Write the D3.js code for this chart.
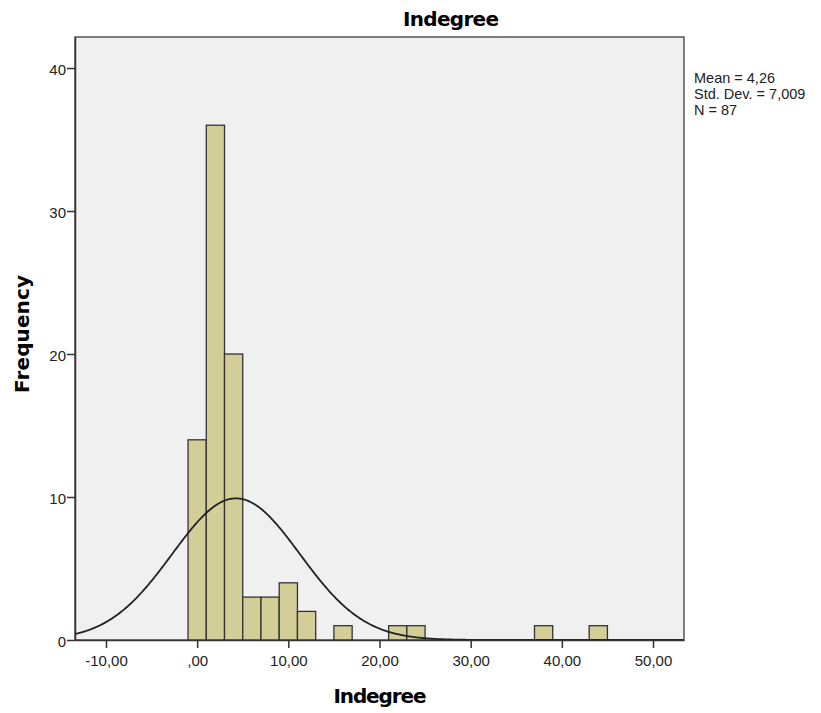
<!DOCTYPE html>
<html>
<head>
<meta charset="utf-8">
<script src="https://cdn.jsdelivr.net/npm/d3@7"></script>
<style>
  body { margin: 0; background: #fff; }
  text { font-family: "Liberation Sans", Arial, sans-serif; }
</style>
</head>
<body>
<svg width="821" height="713"></svg>
<script>
// histogram bins (start of each 2-wide bin) and counts
const binStarts = [-1, 1, 3, 5, 7, 9, 11, 15, 21, 23, 37, 43];
const binCounts = [14, 36, 20, 3, 3, 4, 2, 1, 1, 1, 1, 1];
const binWidth = 2;
const xTicks = [-10, 0, 10, 20, 30, 40, 50];
const yTicks = [0, 10, 20, 30, 40];
const stats = ["Mean = 4,26", "Std. Dev. = 7,009", "N = 87"];
const mean = 4.26, sd = 7.009, n = 87;

const svg = d3.select("svg");
const mLeft = 75, mRight = 684, mTop = 37, mBottom = 640;

const x = d3.scaleLinear().domain([-13.4, 53.4]).range([mLeft, mRight]);
const y = d3.scaleLinear().domain([0, 42.17]).range([mBottom, mTop]);

// plot background
svg.append("rect")
  .attr("x", mLeft).attr("y", mTop)
  .attr("width", mRight - mLeft).attr("height", mBottom - mTop)
  .attr("fill", "#f0f0f0")
  .attr("stroke", "#555").attr("stroke-width", 1.5);

// bars
svg.selectAll(".bar")
  .data(binStarts.map((s, i) => ({ s: s, c: binCounts[i] })))
  .enter().append("rect")
  .attr("class", "bar")
  .attr("x", d => x(d.s))
  .attr("y", d => y(d.c))
  .attr("width", d => x(d.s + binWidth) - x(d.s))
  .attr("height", d => y(0) - y(d.c))
  .attr("fill", "#d3ce97")
  .attr("stroke", "#333").attr("stroke-width", 1.3);

// normal curve
const pts = d3.range(-13.4, 53.4, 0.1).map(v => [v,
  n * binWidth * Math.exp(-0.5 * Math.pow((v - mean) / sd, 2)) / (sd * Math.sqrt(2 * Math.PI))]);
svg.append("path")
  .datum(pts)
  .attr("d", d3.line().x(d => x(d[0])).y(d => y(d[1])))
  .attr("fill", "none")
  .attr("stroke", "#222").attr("stroke-width", 1.8);

// axes
const fmt = v => v === 0 ? ",00" : d3.format(".2f")(v).replace(".", ",").replace("−", "-");
svg.append("g")
  .attr("transform", "translate(0," + mBottom + ")")
  .call(d3.axisBottom(x).tickValues(xTicks).tickSize(8).tickSizeOuter(0).tickFormat(fmt))
  .call(g => g.select(".domain").attr("stroke", "#333").attr("stroke-width", 1.5))
  .call(g => g.selectAll(".tick line").attr("stroke", "#333").attr("stroke-width", 1.5))
  .call(g => g.selectAll("text").attr("font-size", 15).attr("fill", "#222")
    .attr("font-family", "'Liberation Sans', Arial, sans-serif").attr("dy", "1.0em"));

svg.append("g")
  .attr("transform", "translate(" + mLeft + ",0)")
  .call(d3.axisLeft(y).tickValues(yTicks).tickSize(8).tickSizeOuter(0).tickFormat(d3.format("d")))
  .call(g => g.select(".domain").attr("stroke", "#333").attr("stroke-width", 1.5))
  .call(g => g.selectAll(".tick line").attr("stroke", "#333").attr("stroke-width", 1.5))
  .call(g => g.selectAll("text").attr("font-size", 15).attr("fill", "#222")
    .attr("font-family", "'Liberation Sans', Arial, sans-serif").attr("x", -9).attr("dy", "0.4em"));

// titles
svg.append("text")
  .attr("x", 451).attr("y", 26)
  .attr("text-anchor", "middle")
  .attr("font-size", 20).attr("font-weight", "bold")
  .style("font-family", "'DejaVu Sans', Verdana, sans-serif")
  .attr("textLength", 96)
  .text("Indegree");

svg.append("text")
  .attr("x", 380).attr("y", 703)
  .attr("text-anchor", "middle")
  .attr("font-size", 20).attr("font-weight", "bold")
  .style("font-family", "'DejaVu Sans', Verdana, sans-serif")
  .attr("textLength", 93)
  .text("Indegree");

svg.append("text")
  .attr("transform", "translate(29,334) rotate(-90)")
  .attr("text-anchor", "middle")
  .attr("font-size", 20).attr("font-weight", "bold")
  .style("font-family", "'DejaVu Sans', Verdana, sans-serif")
  .attr("textLength", 118)
  .text("Frequency");

// stats box
svg.selectAll(".stat")
  .data(stats)
  .enter().append("text")
  .attr("class", "stat")
  .attr("x", 694)
  .attr("y", (d, i) => 83 + i * 15.8)
  .attr("font-size", 14.5).attr("fill", "#222")
  .text(d => d);
</script>
</body>
</html>
